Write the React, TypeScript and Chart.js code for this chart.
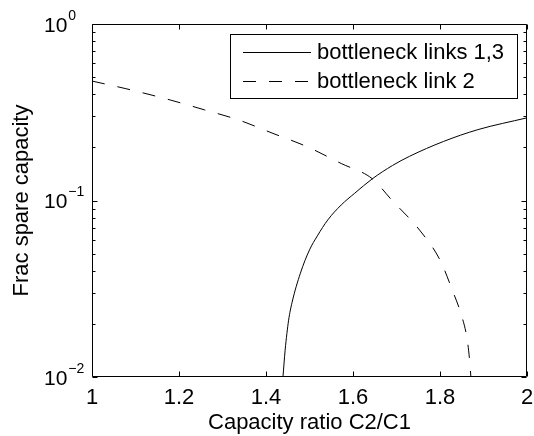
import React, { useEffect, useRef } from 'react';
import { Chart, registerables } from 'chart.js';

Chart.register(...registerables);

// ---- data ----
const solidX = [1.439, 1.444, 1.452, 1.46, 1.479, 1.5, 1.518, 1.542, 1.573, 1.604, 1.644, 1.691, 1.73, 1.808, 1.887, 2.0];
const solidY = [0.01, 0.0142, 0.021, 0.0265, 0.0387, 0.0525, 0.063, 0.0776, 0.0944, 0.11, 0.1325, 0.158, 0.178, 0.216, 0.252, 0.294];

const dashX = [1.0, 1.078, 1.18, 1.259, 1.337, 1.416, 1.494, 1.573, 1.644, 1.69, 1.753, 1.8, 1.83, 1.849, 1.862, 1.868, 1.871];
const dashY = [0.475, 0.43, 0.371, 0.326, 0.286, 0.24, 0.202, 0.162, 0.133, 0.1, 0.068, 0.046, 0.0303, 0.0225, 0.0166, 0.0125, 0.01];

const xTickValues = [1, 1.2, 1.4, 1.6, 1.8, 2];
const yDecades = [1, 0.1, 0.01];
const seriesLabels = ['bottleneck links 1,3', 'bottleneck link 2'];
const xTitle = 'Capacity ratio C2/C1';
const yTitle = 'Frac spare capacity';

const FONT = '"Liberation Sans", Arial, Helvetica, sans-serif';
const DASH = [13, 13];

const framePlugin = {
  id: 'matlabFrame',
  afterDraw(chart: any) {
    const { ctx, chartArea: a, scales } = chart;
    const xs = scales.x;
    const ys = scales.y;
    ctx.save();
    ctx.strokeStyle = '#000';
    ctx.fillStyle = '#000';
    ctx.lineWidth = 1;
    ctx.setLineDash([]);

    const L = Math.round(a.left) + 0.5;
    const R = Math.round(a.right) - 0.5;
    const T = Math.round(a.top) + 0.5;
    const B = Math.round(a.bottom) - 0.5;

    // axes box
    ctx.beginPath();
    ctx.rect(L, T, R - L, B - T);
    ctx.stroke();

    // x ticks (inward, bottom and top)
    ctx.beginPath();
    for (const v of xTickValues) {
      const px = Math.round(xs.getPixelForValue(v)) + 0.5;
      ctx.moveTo(px, B);
      ctx.lineTo(px, B - 5);
      ctx.moveTo(px, T);
      ctx.lineTo(px, T + 5);
    }
    // y ticks (major + minor, both sides)
    for (const d of yDecades) {
      for (let m = 1; m <= 9; m++) {
        const v = d * m;
        if (v > 1.0001) continue;
        const len = m === 1 ? 5 : 3;
        const py = Math.round(ys.getPixelForValue(v)) + 0.5;
        ctx.moveTo(L, py);
        ctx.lineTo(L + len, py);
        ctx.moveTo(R, py);
        ctx.lineTo(R - len, py);
      }
    }
    ctx.stroke();

    // y tick labels 10^n
    for (const d of yDecades) {
      const e = Math.round(Math.log10(d));
      const py = ys.getPixelForValue(d);
      ctx.font = `21px ${FONT}`;
      ctx.textAlign = 'left';
      ctx.textBaseline = 'alphabetic';
      ctx.fillText('10', 44, py + 7.5);
      const w = ctx.measureText('10').width;
      ctx.font = `14px ${FONT}`;
      const expText = e < 0 ? '\u2212' + String(-e) : String(e);
      ctx.fillText(expText, 44 + w + 1, py - 4.5);
    }

    // legend
    const bx = 230.5, by = 34.5, bw = 287, bh = 64;
    ctx.fillStyle = '#fff';
    ctx.fillRect(bx, by, bw, bh);
    ctx.strokeRect(bx, by, bw, bh);
    const rows = [52, 81];
    const dashes = [[], DASH];
    ctx.font = `22px ${FONT}`;
    ctx.textBaseline = 'middle';
    ctx.textAlign = 'left';
    for (let i = 0; i < seriesLabels.length; i++) {
      const y = rows[i] + 0.5;
      ctx.setLineDash(dashes[i]);
      ctx.beginPath();
      ctx.moveTo(243, y);
      ctx.lineTo(311, y);
      ctx.stroke();
      ctx.setLineDash([]);
      ctx.fillStyle = '#000';
      ctx.fillText(seriesLabels[i], 317, rows[i] + 1);
    }
    ctx.restore();
  },
};

export default function App() {
  const canvasRef = useRef<HTMLCanvasElement | null>(null);

  useEffect(() => {
    const canvas = canvasRef.current;
    if (!canvas) return;
    const chart = new Chart(canvas, {
      type: 'line',
      data: {
        datasets: [
          {
            label: seriesLabels[0],
            data: solidX.map((x, i) => ({ x, y: solidY[i] })),
            borderColor: '#000',
            borderWidth: 1,
            pointRadius: 0,
            fill: false,
            cubicInterpolationMode: 'monotone',
          },
          {
            label: seriesLabels[1],
            data: dashX.map((x, i) => ({ x, y: dashY[i] })),
            borderColor: '#000',
            borderWidth: 1,
            borderDash: DASH,
            pointRadius: 0,
            fill: false,
            cubicInterpolationMode: 'monotone',
          },
        ],
      },
      options: {
        responsive: false,
        animation: false,
        events: [],
        layout: { padding: { left: 0, top: 24, right: 7, bottom: 0 } },
        plugins: {
          legend: { display: false },
          tooltip: { enabled: false },
          title: { display: false },
        },
        scales: {
          x: {
            type: 'linear',
            min: 1,
            max: 2,
            grid: { display: false, drawTicks: false },
            border: { display: false },
            ticks: {
              stepSize: 0.2,
              autoSkip: false,
              maxRotation: 0,
              padding: 8,
              color: '#000',
              font: { family: FONT, size: 22 },
              callback: (v: any) => String(Number(Number(v).toFixed(1))),
            },
            title: {
              display: true,
              text: xTitle,
              color: '#000',
              font: { family: FONT, size: 22 },
              padding: { top: 0, bottom: 0 },
            },
            afterFit: (s: any) => {
              s.height = 59;
              s.paddingLeft = 0;
              s.paddingRight = 0;
            },
          },
          y: {
            type: 'logarithmic',
            min: 0.01,
            max: 1,
            grid: { display: false, drawTicks: false },
            border: { display: false },
            ticks: { display: false },
            title: {
              display: true,
              text: yTitle,
              color: '#000',
              font: { family: FONT, size: 22 },
              padding: { top: 9, bottom: 0 },
            },
            afterFit: (s: any) => {
              s.width = 92;
              s.paddingTop = 0;
              s.paddingBottom = 0;
            },
          },
        },
      },
      plugins: [framePlugin],
    } as any);
    return () => chart.destroy();
  }, []);

  return (
    <div style={{ position: 'fixed', left: 0, top: 0, width: 534, height: 436, background: '#fff' }}>
      <canvas ref={canvasRef} width={534} height={436} style={{ display: 'block' }} />
    </div>
  );
}
